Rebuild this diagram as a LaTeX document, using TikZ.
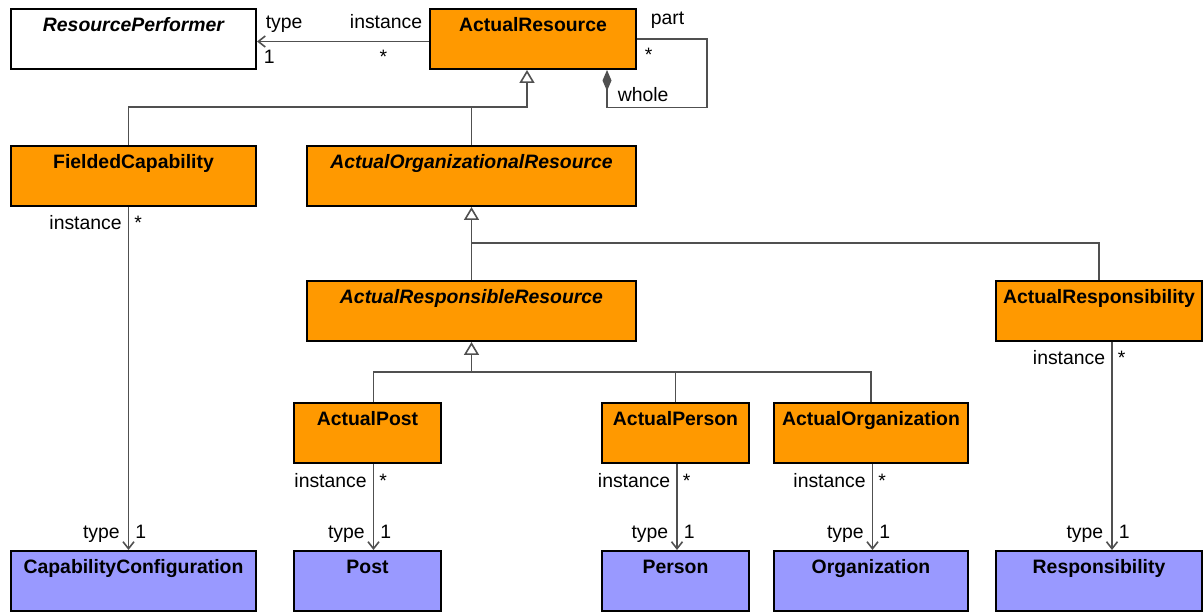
\documentclass[tikz,border=0pt]{standalone}
\usepackage{fontspec}
\setmainfont{Liberation Sans}
\usepackage{xcolor}
\usetikzlibrary{arrows.meta,positioning}
\definecolor{actorange}{HTML}{FF9900}
\definecolor{typeblue}{HTML}{9999FF}
\definecolor{linkgray}{HTML}{505050}

\begin{document}
\begin{tikzpicture}[x=1pt, y=-1pt, box/.style={draw, line width=2pt, fill=actorange, minimum height=60pt, inner ysep=0pt, text height=22.5pt, text depth=37.5pt, font=\fontsize{19.4}{22}\selectfont\bfseries}, abs/.style={box, font=\fontsize{19.4}{22}\selectfont\bfseries\itshape}, typebox/.style={box, fill=typeblue}, lbl/.style={font=\fontsize{19.4}{22}\selectfont, inner sep=0pt}, link/.style={draw=linkgray, line width=1.6pt}, gen/.style={link, -{Triangle[open, length=13pt, width=15pt, fill=white]}}, assoc/.style={link, -{Straight Barb[length=7pt, width=11pt]}}, comp/.style={link, -{Diamond[length=21pt, width=9pt]}}, srcl/.style={lbl, pos=0, anchor=base east, xshift=-6pt, yshift=-23pt}, srcr/.style={lbl, pos=0, anchor=base west, xshift=5pt, yshift=-23pt}, dstl/.style={lbl, pos=1, anchor=base east, xshift=-8pt, yshift=12pt}, dstr/.style={lbl, pos=1, anchor=base west, xshift=6pt, yshift=12pt}]
\useasboundingbox (0,0) rectangle (1203,612);
\node[abs, fill=white, minimum width=245pt, anchor=north west] (rp) at (10,8) {ResourcePerformer};
\node[box, minimum width=206pt, right=172pt of rp] (ar) {ActualResource};
\node[box, minimum width=245pt, below=75pt of rp] (fc) {FieldedCapability};
\node[abs, minimum width=329pt, right=49pt of fc] (aor) {ActualOrganizationalResource};
\node[abs, minimum width=329pt, below=73pt of aor] (arr) {ActualResponsibleResource};
\node[box, minimum width=206pt, right=358pt of arr] (aresp) {ActualResponsibility};
\node[box, minimum width=147pt, below right=60pt and -13pt of arr.south west] (apost) {ActualPost};
\node[box, minimum width=147pt, right=159pt of apost] (aperson) {ActualPerson};
\node[box, minimum width=194pt, right=23pt of aperson] (aorg) {ActualOrganization};
\node[typebox, minimum width=245pt, below=343pt of fc] (cc) {CapabilityConfiguration};
\node[typebox, minimum width=147pt, below=86pt of apost] (post) {Post};
\node[typebox, minimum width=147pt, below=86pt of aperson] (person) {Person};
\node[typebox, minimum width=194pt, below=86pt of aorg] (org) {Organization};
\node[typebox, minimum width=206pt, below=208pt of aresp] (resp) {Responsibility};
\coordinate (j1) at ([xshift=-6pt, yshift=-37pt]ar.south);
\coordinate (j2) at ([yshift=-36pt]aor.south);
\coordinate (j3) at ([yshift=-30pt]arr.south);
\draw[gen] ([xshift=-5pt]fc.north) |- (j1) -- ([xshift=-6pt]ar.south);
\draw[link] (aor.north) -- (aor.north |- j1);
\draw[gen] (arr.north) -- (aor.south);
\draw[link] (aresp.north) |- (j2);
\draw[gen] (j3) -- (arr.south);
\draw[link] ([xshift=6pt]apost.north) |- (j3 -| aorg.north) -- (aorg.north);
\draw[link] (aperson.north) -- (aperson.north |- j3);
\draw[assoc] ([yshift=-2.5pt]ar.west) -- node[lbl, pos=0, anchor=base east, xshift=-6pt, yshift=12.5pt] {instance} node[lbl, pos=0, anchor=base east, xshift=-41pt, yshift=-22.5pt] {*} node[lbl, pos=1, anchor=base west, xshift=8pt, yshift=12.5pt] {type} node[lbl, pos=1, anchor=base west, xshift=6pt, yshift=-22.5pt] {1} ([yshift=-2.5pt]rp.east);
\draw[comp] (ar.east) -- node[lbl, pos=0, anchor=base west, xshift=13pt, yshift=14pt] {part} node[lbl, pos=0, anchor=base west, xshift=7pt, yshift=-22.5pt] {*} ++(70,0) |- ([xshift=74pt, yshift=-37.5pt]ar.south) -- node[lbl, pos=0, anchor=base west, xshift=10pt, yshift=5.5pt] {whole} ([xshift=74pt]ar.south);
\draw[assoc] ([xshift=-5pt]fc.south) -- node[srcl] {instance} node[srcr] {*} node[dstl] {type} node[dstr] {1} ([xshift=-5pt]cc.north);
\draw[assoc] ([xshift=6pt]apost.south) -- node[srcl] {instance} node[srcr] {*} node[dstl] {type} node[dstr] {1} ([xshift=6pt]post.north);
\draw[assoc] ([xshift=1.5pt]aperson.south) -- node[srcl] {instance} node[srcr] {*} node[dstl] {type} node[dstr] {1} ([xshift=1.5pt]person.north);
\draw[assoc] ([xshift=1.5pt]aorg.south) -- node[srcl] {instance} node[srcr] {*} node[dstl] {type} node[dstr] {1} ([xshift=1.5pt]org.north);
\draw[assoc] ([xshift=13pt]aresp.south) -- node[srcl] {instance} node[srcr] {*} node[dstl] {type} node[dstr] {1} ([xshift=13pt]resp.north);
\end{tikzpicture}
\end{document}
